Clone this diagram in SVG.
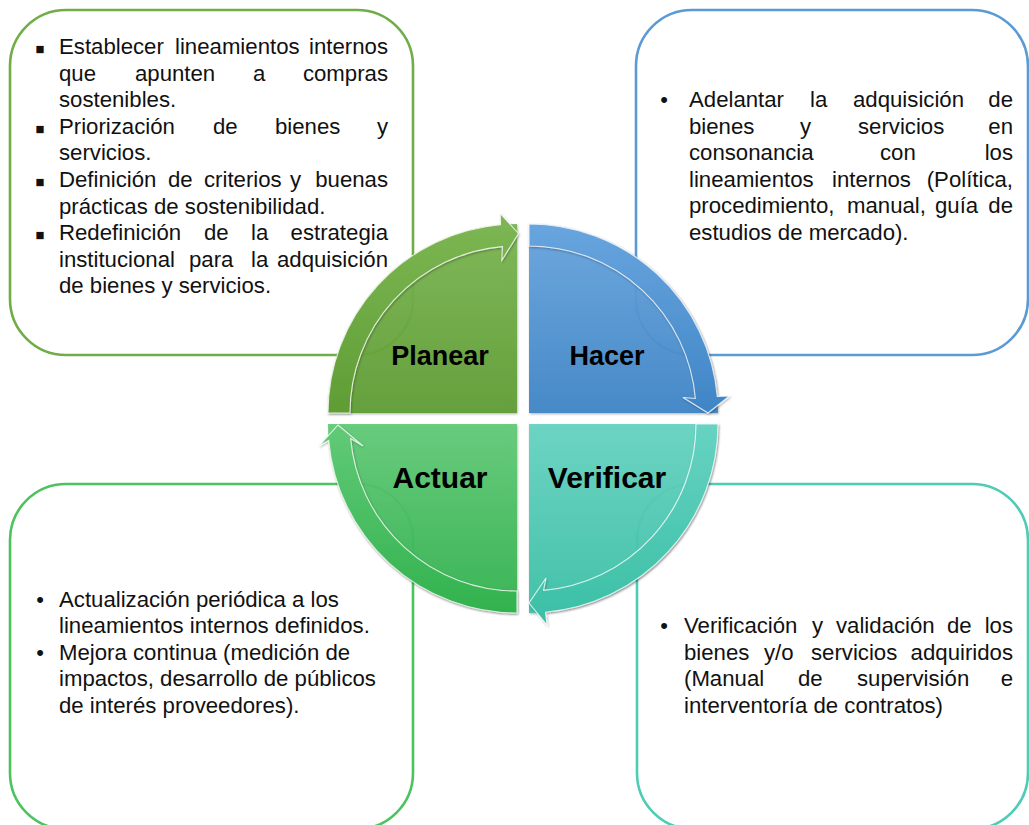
<svg xmlns="http://www.w3.org/2000/svg" width="1029" height="825" viewBox="0 0 1029 825">
<defs>
<style>
.t{font-family:"Liberation Sans",Arial,sans-serif;font-size:22.2px;fill:#111}
.e{text-anchor:end}
.sq{font-family:"DejaVu Sans",sans-serif;font-size:9.5px;fill:#111;text-anchor:middle}
.bu{font-family:"Liberation Sans",Arial,sans-serif;font-size:22px;fill:#111;text-anchor:middle}
.lbl{font-family:"Liberation Sans",Arial,sans-serif;font-weight:bold;fill:#000;text-anchor:middle}
.box{fill:none;stroke-width:2.6}
.pie{fill-opacity:0.94;filter:url(#sh)}
.band{stroke:#fff;stroke-opacity:0.8;stroke-width:1.1;filter:url(#sh)}
</style>
<filter id="sh" x="-10%" y="-10%" width="120%" height="120%">
<feDropShadow dx="0.8" dy="1.2" stdDeviation="1.2" flood-color="#000" flood-opacity="0.3"/>
</filter>
<linearGradient id="gP" gradientUnits="userSpaceOnUse" x1="0" y1="214" x2="0" y2="413"><stop offset="0" stop-color="#7db754"/><stop offset="1" stop-color="#5f9d34"/></linearGradient>
<linearGradient id="gH" gradientUnits="userSpaceOnUse" x1="0" y1="224" x2="0" y2="413"><stop offset="0" stop-color="#68a5de"/><stop offset="1" stop-color="#3f85c6"/></linearGradient>
<linearGradient id="gV" gradientUnits="userSpaceOnUse" x1="0" y1="424" x2="0" y2="623"><stop offset="0" stop-color="#67d3c2"/><stop offset="1" stop-color="#3abfa5"/></linearGradient>
<linearGradient id="gA" gradientUnits="userSpaceOnUse" x1="0" y1="424" x2="0" y2="613"><stop offset="0" stop-color="#62ca78"/><stop offset="1" stop-color="#32b24e"/></linearGradient>
</defs>
<rect width="1029" height="825" fill="#fff"/>

<g id="box-planear">
<rect class="box" x="10" y="10" width="403" height="345" rx="56" stroke="#70ad47"/>
<text class="sq" x="40" y="52">■</text>
<text class="t" y="54"><tspan x="59">Establecer</tspan><tspan x="175">lineamientos</tspan></text><text class="t e" x="388" y="54">internos</text>
<text class="t" y="81"><tspan x="59">que</tspan><tspan x="135">apunten</tspan><tspan x="253">a</tspan></text><text class="t e" x="388" y="81">compras</text>
<text class="t" x="59" y="107">sostenibles.</text>
<text class="sq" x="40" y="132">■</text>
<text class="t" y="134"><tspan x="59">Priorización</tspan><tspan x="213">de</tspan><tspan x="275">bienes</tspan></text><text class="t e" x="388" y="134">y</text>
<text class="t" x="59" y="160">servicios.</text>
<text class="sq" x="40" y="185">■</text>
<text class="t" y="187"><tspan x="59">Definición</tspan><tspan x="168">de</tspan><tspan x="204">criterios</tspan><tspan x="290">y</tspan></text><text class="t e" x="388" y="187">buenas</text>
<text class="t" x="59" y="214">prácticas de sostenibilidad.</text>
<text class="sq" x="40" y="238">■</text>
<text class="t" y="240"><tspan x="59">Redefinición</tspan><tspan x="204">de</tspan><tspan x="251">la</tspan></text><text class="t e" x="388" y="240">estrategia</text>
<text class="t" y="267"><tspan x="59">institucional</tspan><tspan x="189">para</tspan><tspan x="251">la</tspan></text><text class="t e" x="388" y="267">adquisición</text>
<text class="t" x="59" y="293">de bienes y servicios.</text>
</g>

<g id="box-hacer">
<rect class="box" x="636" y="10" width="392" height="345" rx="56" stroke="#5b9bd5"/>
<text class="bu" x="664" y="107">•</text>
<text class="t" y="107"><tspan x="689">Adelantar</tspan><tspan x="810">la</tspan><tspan x="853">adquisición</tspan></text><text class="t e" x="1013" y="107">de</text>
<text class="t" y="134"><tspan x="689">bienes</tspan><tspan x="800">y</tspan><tspan x="858">servicios</tspan></text><text class="t e" x="1013" y="134">en</text>
<text class="t" y="160"><tspan x="689">consonancia</tspan><tspan x="880">con</tspan></text><text class="t e" x="1013" y="160">los</text>
<text class="t" y="187"><tspan x="689">lineamientos</tspan><tspan x="832">internos</tspan></text><text class="t e" x="1013" y="187">(Política,</text>
<text class="t" y="213"><tspan x="689">procedimiento,</tspan><tspan x="847">manual,</tspan><tspan x="935">guía</tspan></text><text class="t e" x="1013" y="213">de</text>
<text class="t" x="689" y="240">estudios de mercado).</text>
</g>

<g id="box-actuar">
<rect class="box" x="10" y="484" width="403" height="345" rx="56" stroke="#4cc35e"/>
<text class="bu" x="40" y="607">•</text>
<text class="t" x="59" y="607">Actualización periódica a los</text>
<text class="t" x="59" y="633">lineamientos internos definidos.</text>
<text class="bu" x="40" y="660">•</text>
<text class="t" x="59" y="660">Mejora continua (medición de</text>
<text class="t" x="59" y="686">impactos, desarrollo de públicos</text>
<text class="t" x="59" y="713">de interés proveedores).</text>
</g>

<g id="box-verificar">
<rect class="box" x="637" y="484" width="391" height="345" rx="56" stroke="#4ecdb4"/>
<text class="bu" x="664" y="633">•</text>
<text class="t" y="633"><tspan x="684">Verificación</tspan><tspan x="812">y</tspan><tspan x="836">validación</tspan><tspan x="947">de</tspan></text><text class="t e" x="1013" y="633">los</text>
<text class="t" y="660"><tspan x="684">bienes</tspan><tspan x="764">y/o</tspan><tspan x="811">servicios</tspan></text><text class="t e" x="1013" y="660">adquiridos</text>
<text class="t" y="686"><tspan x="684">(Manual</tspan><tspan x="798">de</tspan><tspan x="857">supervisión</tspan></text><text class="t e" x="1013" y="686">e</text>
<text class="t" x="684" y="713">interventoría de contratos)</text>
</g>

<g id="planear">
<path class="pie" d="M517,413 L328,413 A189,189 0 0,1 517,224 Z" fill="url(#gP)"/>
<text class="lbl" x="440" y="365" font-size="27">Planear</text>
</g>
<g id="hacer">
<path class="pie" d="M529,413 L529,224 A189,189 0 0,1 718,413 Z" fill="url(#gH)"/>
<text class="lbl" x="607" y="365" font-size="27">Hacer</text>
</g>
<g id="verificar">
<path class="pie" d="M529,424 L718,424 A189,189 0 0,1 529,613 Z" fill="url(#gV)"/>
<text class="lbl" x="607" y="488" font-size="30">Verificar</text>
</g>
<g id="actuar">
<path class="pie" d="M517,424 L517,613 A189,189 0 0,1 328,424 Z" fill="url(#gA)"/>
<text class="lbl" x="440" y="488" font-size="30">Actuar</text>
</g>

<g id="connectors">
<path class="band" fill="url(#gP)" d="M328,413 A189,189 0 0,1 500.53,224.72 L500.2,213.5 L518.5,233.5 L501.8,260.5 L502.44,246.64 A167,167 0 0,0 350,413 Z"/>
<path class="band" fill="url(#gH)" d="M529,224 A189,189 0 0,1 717.28,396.53 L729.5,396 L708,413 L683,397.5 L695.36,398.44 A167,167 0 0,0 529,246 Z"/>
<path class="band" fill="url(#gV)" d="M718,424 A189,189 0 0,1 545.47,612.28 L547,625 L529,603 L546,578 L543.56,590.36 A167,167 0 0,0 696,424 Z"/>
<path class="band" fill="url(#gA)" d="M517,613 A189,189 0 0,1 328.72,440.47 L319,446 L338,425 L363,446 L350.64,438.56 A167,167 0 0,0 517,591 Z"/>
</g>
</svg>
